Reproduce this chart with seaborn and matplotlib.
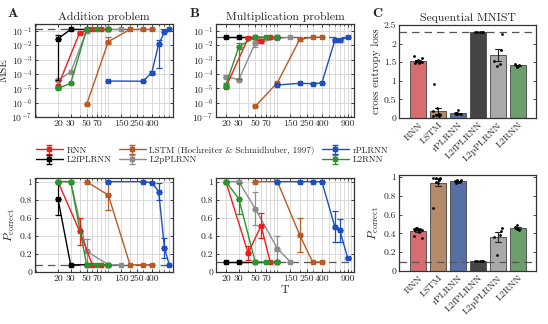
import numpy as np
import pandas as pd
import matplotlib
matplotlib.use("Agg")
import matplotlib.pyplot as plt
from matplotlib.ticker import FixedLocator, NullFormatter, NullLocator, FuncFormatter
import seaborn as sns

# ---------------------------------------------------------------------------
# data
# ---------------------------------------------------------------------------
MODELS = ["RNN", "LSTM", "rPLRNN", "L2fPLRNN", "L2pPLRNN", "L2RNN"]
LEGEND_NAMES = {"LSTM": "LSTM (Hochreiter & Schmidhuber, 1997)"}

# addition problem
add_T = {
    "RNN": [20, 40, 60, 80],
    "LSTM": [50, 100, 200, 300, 400],
    "rPLRNN": [100, 300, 400, 500, 600, 700],
    "L2fPLRNN": [20, 30, 50, 100],
    "L2pPLRNN": [20, 30, 50, 100, 150],
    "L2RNN": [20, 30, 50, 70, 100],
}
add_mse = {
    "RNN": [1.4e-5, 7.5e-2, 0.125, 0.125],
    "LSTM": [7.5e-7, 1.8e-2, 0.125, 0.125, 0.125],
    "rPLRNN": [3.2e-5, 3.1e-5, 1.2e-4, 1.2e-2, 8e-2, 0.125],
    "L2fPLRNN": [2.8e-2, 0.125, 0.125, 0.125],
    "L2pPLRNN": [3.8e-5, 1.3e-4, 0.1, 0.125, 0.125],
    "L2RNN": [1e-5, 2.2e-5, 0.125, 0.125, 0.125],
}
add_mse_err = {
    "RNN": [(40, 0.06, 0.09)],
    "LSTM": [(100, 0.012, 0.04)],
    "rPLRNN": [(400, 1.0e-4, 1.5e-4), (500, 2.4e-4, 2.2e-2)],
    "L2fPLRNN": [(20, 3.6e-5, 5e-2)],
    "L2pPLRNN": [(20, 3.4e-5, 4.5e-5), (50, 0.07, 0.12)],
    "L2RNN": [(20, 9e-6, 1.2e-5)],
}
add_p = {
    "RNN": [1.0, 0.45, 0.08, 0.08],
    "LSTM": [1.0, 0.85, 0.08, 0.08, 0.08],
    "rPLRNN": [1.0, 1.0, 0.99, 0.89, 0.27, 0.08],
    "L2fPLRNN": [0.81, 0.08, 0.08, 0.08],
    "L2pPLRNN": [1.0, 1.0, 0.23, 0.08, 0.08],
    "L2RNN": [1.0, 1.0, 0.08, 0.08, 0.08],
}
add_p_err = {
    "RNN": [(40, 0.30, 0.60)],
    "LSTM": [(100, 0.69, 1.0)],
    "rPLRNN": [(500, 0.80, 0.98), (600, 0.16, 0.38)],
    "L2fPLRNN": [(20, 0.63, 1.0)],
    "L2pPLRNN": [(50, 0.10, 0.37)],
    "L2RNN": [],
}

# multiplication problem
mul_T = {
    "RNN": [20, 40, 60, 80],
    "LSTM": [50, 100, 200, 300, 400],
    "rPLRNN": [100, 200, 300, 400, 600, 700, 900],
    "L2fPLRNN": [20, 30, 50, 100],
    "L2pPLRNN": [20, 30, 50, 100, 150],
    "L2RNN": [20, 30, 50, 70, 100],
}
mul_mse = {
    "RNN": [1.2e-5, 3e-2, 2e-2, 0.036],
    "LSTM": [5.5e-7, 2.5e-5, 2.5e-2, 0.036, 0.036],
    "rPLRNN": [1.7e-5, 2.2e-5, 2.1e-5, 2.4e-5, 2.2e-2, 2.3e-2, 0.036],
    "L2fPLRNN": [0.036, 0.036, 0.036, 0.036],
    "L2pPLRNN": [6.5e-5, 4e-5, 1.4e-2, 0.03, 0.036],
    "L2RNN": [1.7e-5, 8e-3, 0.036, 0.036, 0.036],
}
mul_mse_err = {
    "RNN": [(40, 0.025, 0.035), (60, 0.015, 0.026)],
    "LSTM": [(200, 2e-2, 3e-2)],
    "rPLRNN": [(600, 1.6e-2, 2.8e-2), (700, 1.8e-2, 2.6e-2)],
    "L2fPLRNN": [],
    "L2pPLRNN": [(20, 5e-5, 9e-5), (50, 8e-3, 2e-2)],
    "L2RNN": [(20, 1e-5, 2.5e-5), (30, 4.5e-5, 1.5e-2)],
}
mul_p = {
    "RNN": [1.0, 0.21, 0.51, 0.11],
    "LSTM": [1.0, 1.0, 0.41, 0.11, 0.11],
    "rPLRNN": [1.0, 1.0, 1.0, 1.0, 0.50, 0.46, 0.15],
    "L2fPLRNN": [0.11, 0.11, 0.11, 0.11],
    "L2pPLRNN": [1.0, 1.0, 0.70, 0.26, 0.11],
    "L2RNN": [1.0, 0.81, 0.11, 0.11, 0.11],
}
mul_p_err = {
    "RNN": [(40, 0.13, 0.29), (60, 0.38, 0.65)],
    "LSTM": [(200, 0.22, 0.60)],
    "rPLRNN": [(600, 0.33, 0.67), (700, 0.33, 0.59), (900, 0.14, 0.17)],
    "L2fPLRNN": [],
    "L2pPLRNN": [(50, 0.52, 0.88), (100, 0.12, 0.40)],
    "L2RNN": [(30, 0.64, 0.98)],
}

# sequential MNIST, single runs (dots)
mnist_loss = {
    "RNN": [1.47, 1.50, 1.52, 1.55, 1.50, 1.62, 1.68, 1.48],
    "LSTM": [0.92, 0.28, 0.20, 0.08, 0.06, 0.07, 0.08, 0.09, 0.05, 0.10],
    "rPLRNN": [0.10, 0.12, 0.13, 0.12, 0.14, 0.13, 0.21, 0.11, 0.12],
    "L2fPLRNN": [2.30, 2.30, 2.30, 2.30, 2.30],
    "L2pPLRNN": [2.27, 1.82, 1.40, 1.52, 1.45],
    "L2RNN": [1.43, 1.41, 1.44, 1.38, 1.40],
}
mnist_p = {
    "RNN": [0.41, 0.45, 0.46, 0.45, 0.44, 0.35, 0.37, 0.44, 0.45, 0.46],
    "LSTM": [0.67, 0.93, 0.98, 0.99, 0.99, 0.98, 0.99, 0.97, 0.95],
    "rPLRNN": [0.96, 0.96, 0.95, 0.97, 0.96, 0.95, 0.97, 0.94],
    "L2fPLRNN": [0.11, 0.11, 0.11, 0.11, 0.11],
    "L2pPLRNN": [0.46, 0.43, 0.17, 0.36, 0.38],
    "L2RNN": [0.44, 0.45, 0.47, 0.49, 0.45],
}

# chance levels
add_chance = (0.125, 0.08)
mul_chance = (0.036, 0.11)
mnist_chance = (2.30, 0.10)

add_ticks = [20, 30, 50, 70, 150, 250, 400]
mul_ticks = [20, 30, 50, 70, 150, 250, 400, 900]

# ---------------------------------------------------------------------------
# style
# ---------------------------------------------------------------------------
sns.set_theme(style="ticks")
plt.rcParams["font.family"] = ["cmr10", "DejaVu Serif"]
plt.rcParams["mathtext.fontset"] = "cm"
plt.rcParams["axes.formatter.use_mathtext"] = True
plt.rcParams["axes.unicode_minus"] = False
plt.rcParams["font.size"] = 7

LINE_COLORS = {"RNN": "#f01c1c", "LSTM": "#b65b26", "rPLRNN": "#1d4fbd",
               "L2fPLRNN": "#000000", "L2pPLRNN": "#8c8c8c", "L2RNN": "#2b952b"}
BAR_COLORS = {"RNN": "#ea5b60", "LSTM": "#c3865e", "rPLRNN": "#4a6cb0",
              "L2fPLRNN": "#454545", "L2pPLRNN": "#a9a9a9", "L2RNN": "#63a763"}
DRAW_ORDER = ["L2pPLRNN", "L2fPLRNN", "RNN", "L2RNN", "LSTM", "rPLRNN"]

W, H = 548, 324
fig = plt.figure(figsize=(W / 100, H / 100), dpi=100)


def box(l, t, r, b):
    return [l / W, 1 - b / H, (r - l) / W, (b - t) / H]


def style_axes(ax):
    ax.tick_params(direction="in", top=True, right=True, length=2.5,
                   width=0.6, labelsize=7, pad=2)
    ax.tick_params(which="minor", direction="in", top=True, bottom=True,
                   length=1.5, width=0.5)
    for s in ax.spines.values():
        s.set_linewidth(0.9)
        s.set_color("#333333")


def draw_lines(ax, T, vals, errs, chance, logy, xlim, ticks):
    ax.axhline(chance, color="#555555", lw=0.9, ls=(0, (6, 4)), zorder=1)
    handles = {}
    for k, m in enumerate(DRAW_ORDER):
        c = LINE_COLORS[m]
        h = ax.errorbar(T[m], vals[m], yerr=np.zeros(len(T[m])), color=c,
                        lw=1.0, marker="s", ms=3, capsize=2.2, elinewidth=0.9,
                        zorder=3 + k)
        handles[m] = h
        if errs[m]:
            ex = [e[0] for e in errs[m]]
            ey = [vals[m][T[m].index(e[0])] for e in errs[m]]
            lo = [y - e[1] for y, e in zip(ey, errs[m])]
            hi = [e[2] - y for y, e in zip(ey, errs[m])]
            ax.errorbar(ex, ey, yerr=[lo, hi], fmt="none", ecolor=c,
                        elinewidth=0.9, capsize=2.2, capthick=0.9, zorder=3 + k)
    ax.set_xscale("log")
    ax.set_xlim(*xlim)
    minor = [v * 10 ** d for d in (1, 2) for v in range(1, 10)] + [1000]
    minor = [v for v in minor if xlim[0] < v < xlim[1]]
    ax.xaxis.set_major_locator(FixedLocator(ticks))
    ax.xaxis.set_major_formatter(FuncFormatter(lambda v, p: f"{v:g}"))
    ax.xaxis.set_minor_locator(FixedLocator(minor))
    ax.xaxis.set_minor_formatter(NullFormatter())
    ax.grid(True, which="both", axis="x", color="#d4d4d4", lw=0.6, zorder=0)
    ax.grid(True, which="major", axis="y", color="#d4d4d4", lw=0.6, zorder=0)
    if logy:
        ax.set_yscale("log")
        ax.set_ylim(1e-7, 0.3)
        ax.yaxis.set_major_locator(FixedLocator([10.0 ** e for e in range(-7, 0)]))
        ax.yaxis.set_minor_locator(NullLocator())
    else:
        ax.set_ylim(0, 1.04)
        ax.set_yticks([0, 0.2, 0.4, 0.6, 0.8, 1])
        ax.yaxis.set_major_formatter(FuncFormatter(lambda v, p: f"{v:g}"))
    style_axes(ax)
    ax.set_axisbelow(True)
    return handles


# panel A / B
axA1 = fig.add_axes(box(35, 24, 173, 117))
handles = draw_lines(axA1, add_T, add_mse, add_mse_err, add_chance[0], True,
                     (9.6, 790), add_ticks)
axA1.set_title("Addition problem", fontsize=8.5, pad=3)
axA1.set_ylabel("MSE", fontsize=8, labelpad=2)

axB1 = fig.add_axes(box(216, 24, 354, 117))
draw_lines(axB1, mul_T, mul_mse, mul_mse_err, mul_chance[0], True,
           (14.7, 1090), mul_ticks)
axB1.set_title("Multiplication problem", fontsize=8.5, pad=3)

axA2 = fig.add_axes(box(35, 178, 173, 272))
draw_lines(axA2, add_T, add_p, add_p_err, add_chance[1], False,
           (9.6, 790), add_ticks)
axA2.set_ylabel(r"$P_{\mathrm{correct}}$", fontsize=8.5, labelpad=2)

axB2 = fig.add_axes(box(216, 178, 354, 272))
draw_lines(axB2, mul_T, mul_p, mul_p_err, mul_chance[1], False,
           (14.7, 1090), mul_ticks)
axB2.set_xlabel("T", fontsize=8.5, labelpad=2)

# panel C
def mnist_panel(ax, runs, chance, ylim, yticks):
    df = pd.DataFrame([(m, v) for m in MODELS for v in runs[m]],
                      columns=["model", "value"])
    sns.barplot(data=df, x="model", y="value", hue="model", order=MODELS,
                hue_order=MODELS, palette=BAR_COLORS, legend=False,
                errorbar="se", capsize=0.3, width=0.8, edgecolor="#444444",
                linewidth=0.6, err_kws={"linewidth": 0.8, "color": "#222222"},
                ax=ax, zorder=2)
    np.random.seed(3)
    sns.stripplot(data=df, x="model", y="value", order=MODELS, color="black",
                  size=2, jitter=0.25, ax=ax, zorder=4)
    ax.axhline(chance, color="#555555", lw=0.9, ls=(0, (6, 4)), zorder=3)
    ax.set_xlim(-0.95, 5.9)
    ax.set_ylim(*ylim)
    ax.set_yticks(yticks)
    ax.yaxis.set_major_formatter(FuncFormatter(lambda v, p: f"{v:g}"))
    ax.set_xlabel("")
    ax.set_ylabel("")
    style_axes(ax)
    ax.tick_params(axis="x", top=False, length=0)
    plt.setp(ax.get_xticklabels(), rotation=45, ha="right",
             rotation_mode="anchor", fontsize=7)


axC1 = fig.add_axes(box(399, 25, 536, 118))
mnist_panel(axC1, mnist_loss, mnist_chance[0], (0, 2.5), [0, 0.5, 1, 1.5, 2, 2.5])
axC1.set_title("Sequential MNIST", fontsize=8.5, pad=3)
axC1.set_ylabel("cross entropy loss", fontsize=8, labelpad=2)

axC2 = fig.add_axes(box(399, 175, 536, 271))
mnist_panel(axC2, mnist_p, mnist_chance[1], (0, 1.02), [0, 0.2, 0.4, 0.6, 0.8, 1])
axC2.set_ylabel(r"$P_{\mathrm{correct}}$", fontsize=8.5, labelpad=2)

# panel letters
for x, lab in [(8, "A"), (190, "B"), (372, "C")]:
    fig.text(x / W, 1 - 14 / H, lab, fontsize=10, fontfamily="cmb10",
             va="center", ha="left")

# legend (column-major order: RNN/L2fPLRNN, LSTM/L2pPLRNN, rPLRNN/L2RNN)
leg_order = ["RNN", "L2fPLRNN", "LSTM", "L2pPLRNN", "rPLRNN", "L2RNN"]
fig.legend([handles[m] for m in leg_order],
           [LEGEND_NAMES.get(m, m) for m in leg_order],
           loc="center", bbox_to_anchor=(212 / W, 1 - 155 / H), ncol=3,
           frameon=False, fontsize=6.5, handlelength=3.0, columnspacing=0.8,
           labelspacing=0.15, handletextpad=0.4, borderpad=0)

fig.savefig("out.png", dpi=100)
